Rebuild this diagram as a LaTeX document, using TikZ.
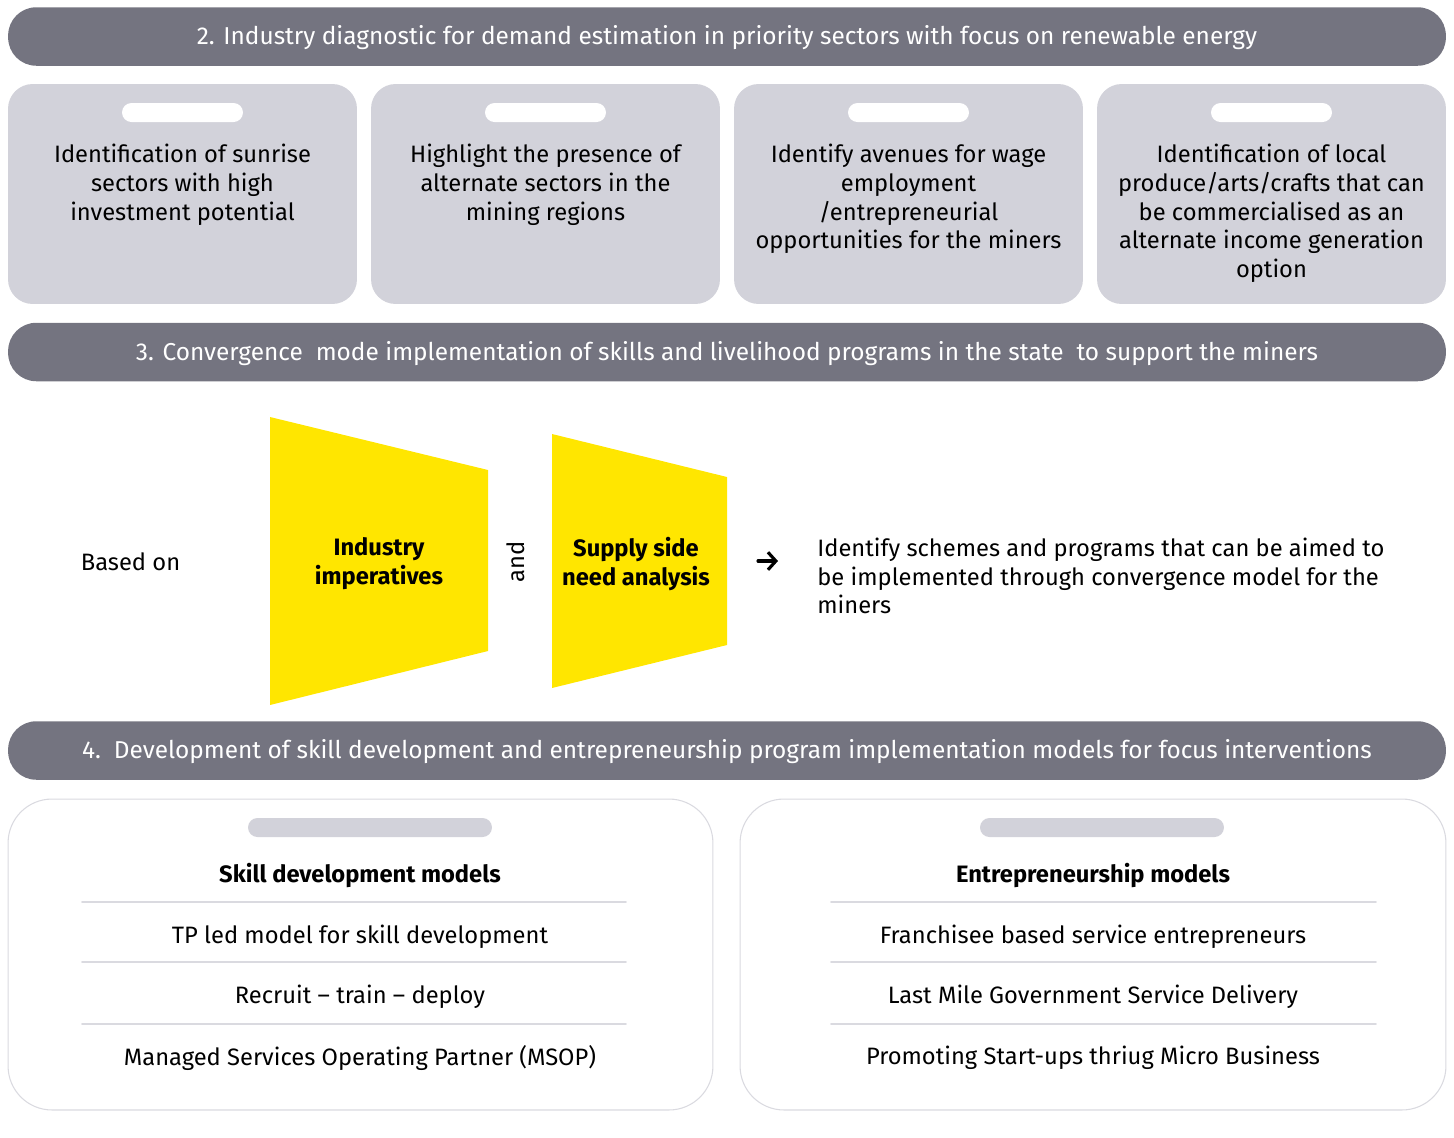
\documentclass[tikz,border=0pt]{standalone}
\usepackage{fontspec}
\setmainfont{Fira Sans}
\usetikzlibrary{positioning,arrows.meta}
\definecolor{eygray}{HTML}{747480}
\definecolor{eylight}{HTML}{D2D2DA}
\definecolor{eyrule}{HTML}{DADAE0}
\definecolor{eyyellow}{HTML}{FFE600}
\newcommand{\eyfont}{\fontsize{13.5}{16.4}\selectfont}
\newcommand{\eyhead}{\fontsize{13.9}{16.4}\selectfont}

\begin{document}
\begin{tikzpicture}[x=0.02cm,y=-0.02cm,line cap=round,line join=round,
    banner/.style={fill=eygray,text=white,rounded corners=16pt,minimum width=28.76cm,minimum height=1.17cm,text depth=1.5pt,font=\eyhead},
    card/.style={fill=eylight,rounded corners=14pt,minimum width=6.98cm,minimum height=4.4cm},
    pill/.style={fill=white,rounded corners=5.4pt,minimum width=2.42cm,minimum height=0.38cm,inner sep=0},
    cardtext/.style={align=center,inner sep=0,font=\eyfont,anchor=north},
    model/.style={fill=white,draw=eyrule,line width=0.6pt,rounded corners=25pt,minimum height=6.22cm},
    modelpill/.style={fill=eylight,rounded corners=5.4pt,minimum width=4.88cm,minimum height=0.38cm,inner sep=0},
    item/.style={font=\eyfont,inner sep=0},
    >={Straight Barb[length=4.5pt,width=10pt]}]
  \useasboundingbox (0,0) rectangle (1454,1137);
  % stage 2
  \node[banner] (b2) at (727,36.5) {2. Industry diagnostic for demand estimation in priority sectors with focus on renewable energy};
  \foreach \cx/\nm/\txt in {182.5/c1/{Identification of sunrise\\sectors with high\\investment potential},
      545.5/c2/{Highlight the presence of\\alternate sectors in the\\mining regions},
      908.5/c3/{Identify avenues for wage\\employment\\/entrepreneurial\\opportunities for the miners},
      1271.5/c4/{Identification of local\\produce/arts/crafts that can\\be commercialised as an\\alternate income generation\\option}}{
    \node[card] (\nm) at (\cx,194) {};
    \node[pill,below=0.38cm of \nm.north,anchor=north] (\nm p) {};
    \node[cardtext] (\nm t) at ([yshift=-1.2cm]\nm.north) {\txt};
  }
  % stage 3
  \node[banner] (b3) at (727,352) {3. Convergence\ \ mode implementation of skills and livelihood programs in the state\ \ to support the miners};
  \node[font=\eyfont] (based) at (130.5,562) {Based on};
  \fill[eyyellow] (270,417) -- (488,470) -- (488,651) -- (270,705) -- cycle;
  \fill[eyyellow] (552,434) -- (727,477) -- (727,645) -- (552,688) -- cycle;
  \node[font=\eyfont\bfseries,align=center] (ind) at (379,564) {Industry\\imperatives};
  \node[font=\eyfont,rotate=90] (and) at (516,562) {and};
  \node[font=\eyfont\bfseries,align=center] (sup) at (636,564) {Supply side\\need analysis};
  \node[font=\eyfont,align=left,anchor=west,inner sep=0] (iden) at (817,576) {Identify schemes and programs that can be aimed to\\be implemented through convergence model for the\\miners};
  \coordinate (ar1) at (758,561);
  \coordinate (ar2) at (778,561);
  \draw[->,line width=1.8pt] (ar1) -- (ar2);
  % stage 4
  \node[banner] (b4) at (727,750.5) {4.\ \ Development of skill development and entrepreneurship program implementation models for focus interventions};
  \node[model,minimum width=14.1cm] (skill) at (360.5,954.5) {};
  \node[model,minimum width=14.12cm] (entr) at (1093,954.5) {};
  \node[modelpill] (skillp) at (370,827.5) {};
  \node[modelpill] (entrp) at (1102,827.5) {};
  \node[item,font=\eyfont\bfseries] (skh) at (360,875) {Skill development models};
  \node[item] (sk1) at (360,937) {TP led model for skill development};
  \node[item] (sk2) at (360,997) {Recruit – train – deploy};
  \node[item] (sk3) at (360,1058) {Managed Services Operating Partner (MSOP)};
  \node[item,font=\eyfont\bfseries] (enh) at (1093,875) {Entrepreneurship models};
  \node[item] (en1) at (1093,937) {Franchisee based service entrepreneurs};
  \node[item] (en2) at (1093,997) {Last Mile Government Service Delivery};
  \node[item] (en3) at (1093,1058) {Promoting Start-ups thriug Micro Business};
  \foreach \y in {902,962,1024}{
    \draw[eyrule,line width=1pt] (82,\y) -- (626,\y);
    \draw[eyrule,line width=1pt] (831,\y) -- (1376,\y);
  }
\end{tikzpicture}
\end{document}
